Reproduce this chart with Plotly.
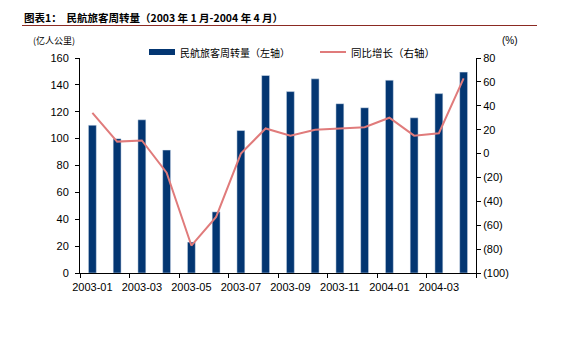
import plotly.graph_objects as go

# Monthly civil aviation passenger turnover and year-on-year growth
months = ["2003-01", "2003-02", "2003-03", "2003-04", "2003-05", "2003-06",
          "2003-07", "2003-08", "2003-09", "2003-10", "2003-11", "2003-12",
          "2004-01", "2004-02", "2004-03", "2004-04"]
turnover = [110, 100, 114, 91.5, 23, 45.5, 106, 147, 135, 144.5, 126, 123,
            143.5, 115.5, 133.5, 149.5]          # 亿人公里, left axis
yoy_growth = [34, 10, 11, -16, -77, -53, 0, 21, 15, 20, 21, 22, 30, 15, 17, 63]  # %, right axis

left_ticks = list(range(0, 161, 20))
right_ticks = list(range(-100, 81, 20))
right_tick_text = [f"({abs(v)})" if v < 0 else str(v) for v in right_ticks]
shown_months = months[::2]

bar_color = "#033672"
line_color = "#E07B7B"
tick_font = dict(family="Liberation Sans, Arial", size=11, color="#000000")
cjk = "Noto Sans CJK SC"

# plot area in pixels (width 564, height 348)
L, R, T, B = 80, 476, 58, 273
W, H = 564, 348


def px(x):
    return (x - L) / (R - L)


def py(y):
    return (B - y) / (B - T)


fig = go.Figure()
fig.add_trace(go.Bar(x=months, y=turnover, marker_color=bar_color,
                     width=0.32, name="民航旅客周转量（左轴）", yaxis="y"))
fig.add_trace(go.Scatter(x=months, y=yoy_growth, mode="lines",
                         line=dict(color=line_color, width=2),
                         name="同比增长（右轴）", yaxis="y2"))
# invisible trace to carry the boundary tick marks of the category axis
fig.add_trace(go.Scatter(x=[-0.5, 15.5], y=[0, 0], xaxis="x2", yaxis="y",
                         mode="markers", marker=dict(opacity=0),
                         hoverinfo="skip", showlegend=False))

fig.update_layout(
    width=W, height=H,
    margin=dict(l=L, r=W - R, t=T, b=H - B),
    paper_bgcolor="white", plot_bgcolor="white",
    showlegend=False,
    xaxis=dict(type="category", range=[-0.5, 15.5], tickmode="array",
               tickvals=shown_months, ticktext=shown_months, ticks="",
               ticklabelstandoff=4,
               showline=True, linecolor="#000000", linewidth=1,
               showgrid=False, tickfont=tick_font, zeroline=False),
    xaxis2=dict(overlaying="x", range=[-0.5, 15.5], tickmode="array",
                tickvals=[-0.5 + 2 * i for i in range(9)], showticklabels=False,
                ticks="outside", ticklen=4, tickcolor="#000000",
                showgrid=False, showline=False, zeroline=False, side="bottom"),
    yaxis=dict(range=[0, 160], tickvals=left_ticks, ticks="outside", ticklen=4,
               ticklabelstandoff=4,
               tickcolor="#000000", showline=True, linecolor="#000000",
               linewidth=1, showgrid=False, zeroline=False, tickfont=tick_font),
    yaxis2=dict(range=[-100, 80], overlaying="y", side="right",
                tickvals=right_ticks, ticktext=right_tick_text, ticks="outside",
                ticklen=4, tickcolor="#000000", showline=True,
                linecolor="#000000", linewidth=1, showgrid=False,
                zeroline=False, tickfont=tick_font),
)

shapes = [
    # rule under the title
    dict(type="line", xref="paper", yref="paper", x0=px(22), x1=px(537),
         y0=py(25.5), y1=py(25.5), line=dict(color="#8B2A22", width=1.2)),
    # legend keys
    dict(type="rect", xref="paper", yref="paper", x0=px(149), x1=px(175),
         y0=py(55), y1=py(49), fillcolor=bar_color, line=dict(width=0)),
    dict(type="line", xref="paper", yref="paper", x0=px(320), x1=px(346),
         y0=py(52), y1=py(52), line=dict(color=line_color, width=2)),
]
fig.update_layout(shapes=shapes)

annotations = [
    dict(text="<b>图表1：  民航旅客周转量（2003 年 1 月-2004 年 4 月）</b>",
         x=px(22), y=py(17), xanchor="left", yanchor="middle",
         font=dict(family=cjk, size=10.5, color="#000000")),
    dict(text="民航旅客周转量（左轴）", x=px(178), y=py(52),
         xanchor="left", yanchor="middle",
         font=dict(family=cjk, size=10, color="#000000")),
    dict(text="同比增长（右轴）", x=px(349), y=py(52),
         xanchor="left", yanchor="middle",
         font=dict(family=cjk, size=10.5, color="#000000")),
    dict(text="(亿人公里)", x=px(31), y=py(41), xanchor="left",
         yanchor="middle", font=dict(family=cjk, size=9, color="#000000")),
    dict(text="(%)", x=px(500), y=py(41), xanchor="left", yanchor="middle",
         font=dict(family="Liberation Sans, Arial", size=10, color="#000000")),
]
for a in annotations:
    a.update(xref="paper", yref="paper", showarrow=False)
fig.update_layout(annotations=annotations)

fig.write_html("out.html")
